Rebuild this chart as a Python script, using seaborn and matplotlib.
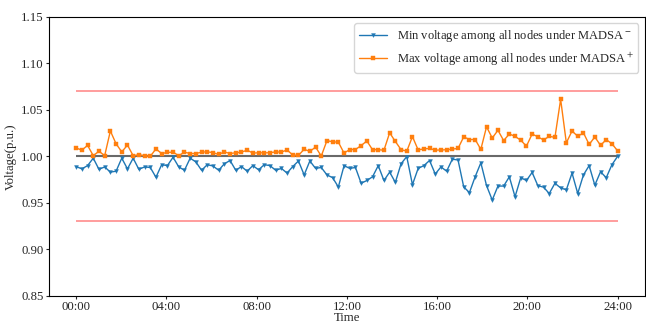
import numpy as np
import pandas as pd
import matplotlib
matplotlib.use("Agg")
import matplotlib.pyplot as plt
import seaborn as sns

# ---- data (96 samples, 15-min steps over the day) ----
min_voltage = [
    0.989, 0.9865, 0.990, 0.998, 0.986, 0.9886, 0.983, 0.984, 0.998, 0.9865,
    0.998, 0.986, 0.9886, 0.988, 0.9775, 0.991, 0.990, 0.999, 0.9886, 0.985,
    0.998, 0.994, 0.985, 0.991, 0.9896, 0.985, 0.992, 0.9955, 0.985, 0.989,
    0.984, 0.990, 0.9855, 0.991, 0.990, 0.985, 0.987, 0.982, 0.989, 0.995,
    0.980, 0.995, 0.987, 0.988, 0.980, 0.977, 0.967, 0.990, 0.987, 0.988,
    0.971, 0.974, 0.978, 0.990, 0.974, 0.983, 0.972, 0.992, 0.9997, 0.9695,
    0.987, 0.990, 0.9955, 0.981, 0.9886, 0.984, 0.997, 0.996, 0.967, 0.961,
    0.978, 0.993, 0.9685, 0.953, 0.968, 0.968, 0.978, 0.9565, 0.977, 0.974,
    0.9827, 0.9685, 0.9668, 0.960, 0.971, 0.966, 0.964, 0.982, 0.960, 0.980,
    0.990, 0.969, 0.9834, 0.977, 0.991, 1.000,
]
max_voltage = [
    1.009, 1.0066, 1.0118, 1.0007, 1.0055, 1.0007, 1.0273, 1.0135, 1.0048, 1.0121,
    1.0007, 1.0017, 1.0007, 1.000, 1.008, 1.003, 1.0042, 1.0045, 1.0007, 1.0045,
    1.003, 1.003, 1.0045, 1.0048, 1.004, 1.002, 1.0048, 1.003, 1.0038, 1.0045,
    1.0066, 1.0035, 1.0038, 1.0038, 1.0038, 1.0048, 1.0045, 1.0069, 1.0014, 1.001,
    1.0076, 1.0052, 1.010, 1.0003, 1.0169, 1.0156, 1.0152, 1.0035, 1.0073, 1.0073,
    1.0116, 1.0165, 1.0071, 1.0071, 1.0066, 1.0253, 1.016, 1.0072, 1.0055, 1.0212,
    1.0069, 1.008, 1.0085, 1.0067, 1.0068, 1.0071, 1.0078, 1.0085, 1.021, 1.018,
    1.0181, 1.0075, 1.0318, 1.0197, 1.028, 1.017, 1.024, 1.0215, 1.0173, 1.011,
    1.024, 1.021, 1.0176, 1.0215, 1.0204, 1.0613, 1.0145, 1.0273, 1.0215, 1.0253,
    1.0128, 1.0208, 1.0118, 1.018, 1.0135, 1.0059,
]
series_names = [r"Min voltage among all nodes under MADSA$^-$",
                r"Max voltage among all nodes under MADSA$^+$"]
tick_hours = [0, 4, 8, 12, 16, 20, 24]
tick_labels = ["00:00", "04:00", "08:00", "12:00", "16:00", "20:00", "24:00"]
limit_upper = 1.07
limit_lower = 0.93
nominal = 1.00

hours = np.linspace(0, 24, len(min_voltage))
df = pd.DataFrame({
    "Time": np.concatenate([hours, hours]),
    "Voltage": np.concatenate([min_voltage, max_voltage]),
    "series": [series_names[0]] * len(min_voltage) + [series_names[1]] * len(max_voltage),
})

sns.set_style("ticks")
plt.rcParams["font.family"] = ["Liberation Serif", "DejaVu Serif"]
plt.rcParams["mathtext.fontset"] = "stix"

fig, ax = plt.subplots(figsize=(6.46, 3.25), dpi=100)
fig.subplots_adjust(left=0.076, right=0.998, top=0.948, bottom=0.09)

ax.hlines([limit_upper, limit_lower], 0, 24, colors="red", alpha=0.45, linewidth=1.2, zorder=1)
ax.hlines(nominal, 0, 24, colors="dimgrey", linewidth=1.5, zorder=1)

sns.lineplot(data=df, x="Time", y="Voltage", hue="series", style="series",
             palette=["#1f77b4", "#ff7f0e"], markers=["v", "s"], dashes=False,
             markersize=2.8, linewidth=1.0, ax=ax, zorder=3)
for ln in ax.lines:
    if ln.get_marker() in ("v", "s"):
        ln.set_markeredgecolor(ln.get_color())
        ln.set_markeredgewidth(0.3)

ax.set_ylim(0.85, 1.15)
yt = np.arange(0.85, 1.151, 0.05)
ax.set_yticks(yt)
ax.set_yticklabels([f"{v:.2f}" for v in yt])
ax.set_xticks(tick_hours)
ax.set_xticklabels(tick_labels)
ax.tick_params(labelsize=9.2, pad=1.5, length=2.5)
ax.set_xlabel("Time", fontsize=9.2, labelpad=-1)
ax.set_ylabel("Voltage(p.u.)", fontsize=9.2, labelpad=3)
for s in ax.spines.values():
    s.set_visible(True)
    s.set_color("black")

leg = ax.legend(loc="upper right", fontsize=9, frameon=True, handlelength=2.2)
for h in leg.legend_handles:
    h.set_markeredgecolor(h.get_color())
    h.set_markersize(2.8)
leg.set_title(None)

fig.savefig("out.png", dpi=100)
